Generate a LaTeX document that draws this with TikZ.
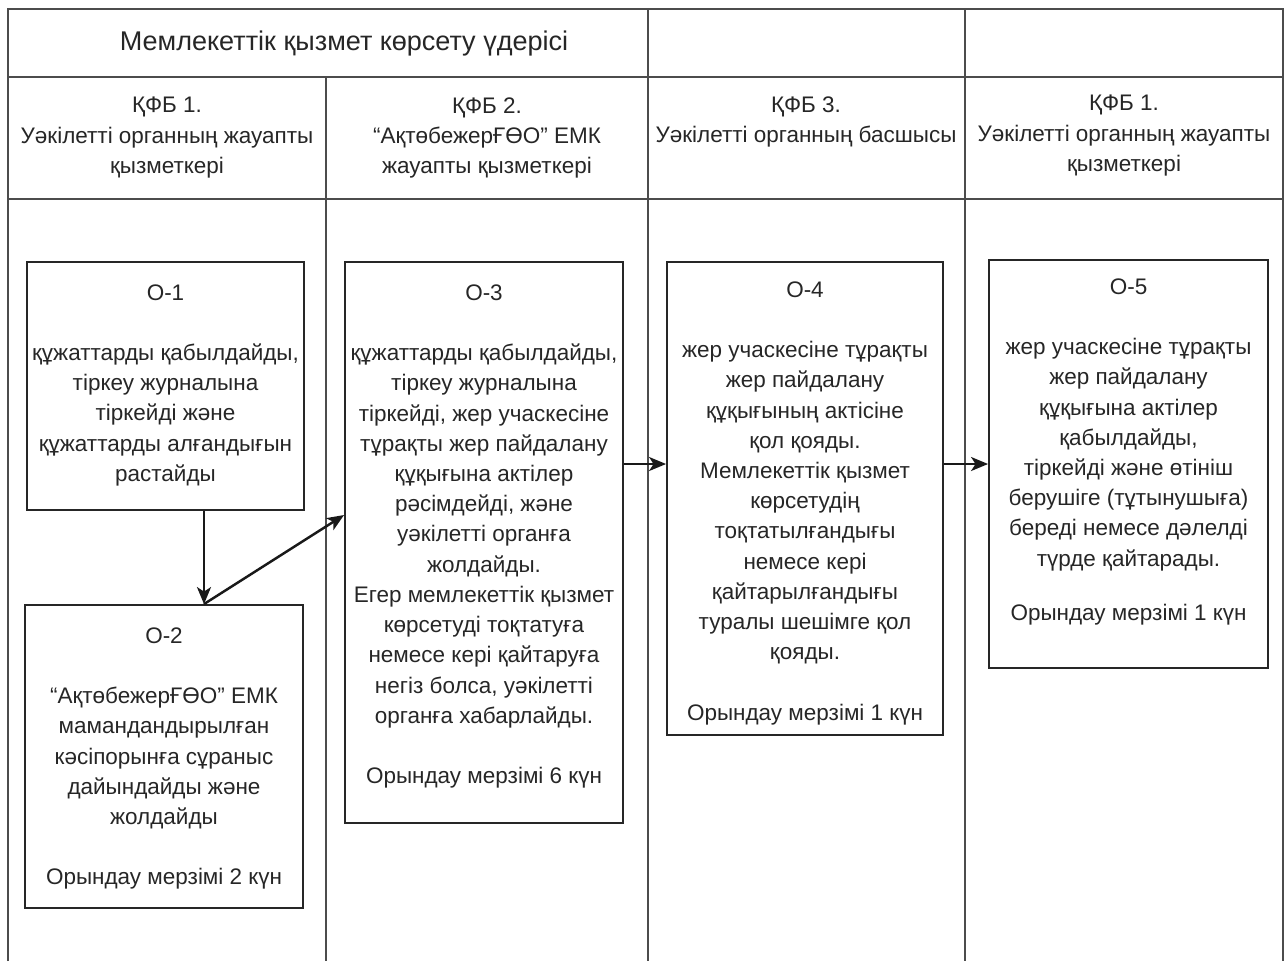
\documentclass[tikz,border=0pt]{standalone}
\usepackage{fontspec}
\setmainfont{Liberation Sans}
\usetikzlibrary{arrows.meta,positioning}

\begin{document}
\begin{tikzpicture}[x=0.02cm,y=-0.02cm,
        grid/.style={line width=1.1pt,draw=black!70},
        opbox/.style={draw=black!85,line width=1.1pt,inner sep=0pt},
        optext/.style={anchor=north,align=center,inner sep=0pt,text=black!85,font=\fontsize{12.8}{17.2}\selectfont},
        flow/.style={line width=1.4pt,draw=black!90,-{Stealth[length=0.34cm,width=0.28cm,inset=0.09cm]}}]
    \useasboundingbox (0,0) rectangle (1285,961);

    % table
    \draw[grid] (8,961) -- (8,9) -- (1283,9) -- (1283,961);
    \draw[grid] (8,77) -- (1283,77);
    \draw[grid] (8,199) -- (1283,199);
    \draw[grid] (326,77) -- (326,961);
    \draw[grid] (648,9) -- (648,961);
    \draw[grid] (965,9) -- (965,961);

    \node[text=black!85,font=\fontsize{15.4}{18}\selectfont] (title) at (344,43) {Мемлекеттік қызмет көрсету үдерісі};

    \begin{scope}[every node/.append style={optext}]
        \node (hdr1) at (167,97) {ҚФБ 1.\\Уәкілетті органның жауапты\\қызметкері};
        \node (hdr2) at (487,97) {ҚФБ 2.\\“АқтөбежерҒӨО” ЕМК\\жауапты қызметкері};
        \node (hdr3) at (806,96) {ҚФБ 3.\\Уәкілетті органның басшысы};
        \node (hdr4) at (1124,95) {ҚФБ 1.\\Уәкілетті органның жауапты\\қызметкері};
    \end{scope}

    % operations
    \node[opbox,minimum width=5.54cm,minimum height=4.96cm] (o1) at (165.5,386) {};
    \node[opbox,minimum width=5.56cm,minimum height=6.06cm] (o2) at (164,756.5) {};
    \node[opbox,minimum width=5.56cm,minimum height=11.22cm] (o3) at (484,542.5) {};
    \node[opbox,minimum width=5.52cm,minimum height=9.46cm] (o4) at (805,498.5) {};
    \node[opbox,minimum width=5.58cm,minimum height=8.16cm] (o5) at (1128.5,464) {};

    \begin{scope}[every node/.append style={optext}]
        \node (o1txt) at ([yshift=-0.46cm]o1.north) {О-1\\[17.2pt]құжаттарды қабылдайды,\\тіркеу журналына\\тіркейді және\\құжаттарды алғандығын\\растайды};
        \node (o2txt) at ([yshift=-0.46cm]o2.north) {О-2\\[17.2pt]“АқтөбежерҒӨО” ЕМК\\мамандандырылған\\кәсіпорынға сұраныс\\дайындайды және\\жолдайды\\[17.2pt]Орындау мерзімі 2 күн};
        \node (o3txt) at ([yshift=-0.46cm]o3.north) {О-3\\[17.2pt]құжаттарды қабылдайды,\\тіркеу журналына\\тіркейді, жер учаскесіне\\тұрақты жер пайдалану\\құқығына актілер\\рәсімдейді, және\\уәкілетті органға\\жолдайды.\\Егер мемлекеттік қызмет\\көрсетуді тоқтатуға\\немесе кері қайтаруға\\негіз болса, уәкілетті\\органға хабарлайды.\\[17.2pt]Орындау мерзімі 6 күн};
        \node (o4txt) at ([yshift=-0.40cm]o4.north) {О-4\\[17.2pt]жер учаскесіне тұрақты\\жер пайдалану\\құқығының актісіне\\қол қояды.\\Мемлекеттік қызмет\\көрсетудің\\тоқтатылғандығы\\немесе кері\\қайтарылғандығы\\туралы шешімге қол\\қояды.\\[17.2pt]Орындау мерзімі 1 күн};
        \node (o5txt) at ([yshift=-0.38cm]o5.north) {О-5\\[17.2pt]жер учаскесіне тұрақты\\жер пайдалану\\құқығына актілер\\қабылдайды,\\тіркейді және өтініш\\берушіге (тұтынушыға)\\береді немесе дәлелді\\түрде қайтарады.\\[14pt]Орындау мерзімі 1 күн};
    \end{scope}

    % connectors
    \coordinate (j1) at (o2.north -| 204,0);
    \draw[flow] (o1.south -| j1) -- (j1);
    \draw[flow] (j1) -- ([yshift=0.55cm]o3.west);
    \draw[flow] (o3.east |- o5.west) -- (o4.west |- o5.west);
    \draw[flow] (o4.east |- o5.west) -- (o5.west);
\end{tikzpicture}
\end{document}
